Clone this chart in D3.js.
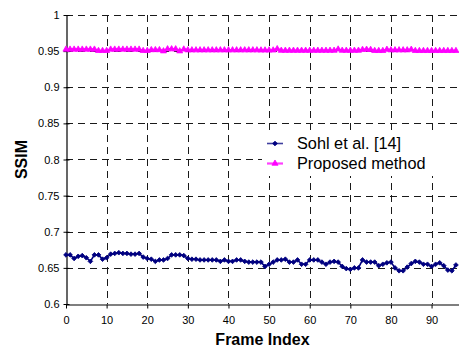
<!DOCTYPE html>
<html>
<head>
<meta charset="utf-8">
<script src="https://cdn.jsdelivr.net/npm/d3@7"></script>
<style>
  html, body { margin: 0; padding: 0; background: #fff; }
  svg { display: block; font-family: "Liberation Sans", Arial, sans-serif; }
</style>
</head>
<body>
<svg id="chart" width="459" height="349"></svg>
<script>
// SSIM per frame for the two methods
const frames = d3.range(0, 97);

const sohlSSIM = [
  0.668, 0.668, 0.663, 0.666, 0.667, 0.664, 0.659, 0.668, 0.668, 0.662,
  0.664, 0.669, 0.670, 0.671, 0.670, 0.670, 0.669, 0.669, 0.670, 0.665,
  0.663, 0.662, 0.659, 0.661, 0.661, 0.663, 0.668, 0.668, 0.668, 0.667,
  0.663, 0.662, 0.662, 0.661, 0.661, 0.661, 0.661, 0.661, 0.659, 0.661,
  0.659, 0.659, 0.661, 0.661, 0.659, 0.658, 0.658, 0.658, 0.658, 0.652,
  0.655, 0.658, 0.661, 0.661, 0.662, 0.658, 0.658, 0.661, 0.655, 0.655,
  0.661, 0.661, 0.661, 0.658, 0.655, 0.658, 0.659, 0.658, 0.652, 0.649,
  0.648, 0.650, 0.650, 0.661, 0.658, 0.658, 0.658, 0.653, 0.655, 0.657,
  0.658, 0.650, 0.646, 0.646, 0.651, 0.656, 0.659, 0.658, 0.655, 0.655,
  0.652, 0.655, 0.657, 0.653, 0.647, 0.646, 0.654
];

const proposedSSIM = [
  0.9524, 0.9524, 0.9524, 0.9524, 0.9524, 0.9524, 0.9524, 0.9524, 0.9505, 0.9505,
  0.9505, 0.9524, 0.9524, 0.9524, 0.9524, 0.9524, 0.9524, 0.9524, 0.9524, 0.9505,
  0.9505, 0.9517, 0.9517, 0.9517, 0.9500, 0.9528, 0.9528, 0.9528, 0.9500, 0.9525,
  0.9514, 0.9514, 0.9514, 0.9514, 0.9514, 0.9514, 0.9514, 0.9514, 0.9514, 0.9514,
  0.9514, 0.9514, 0.9514, 0.9514, 0.9514, 0.9514, 0.9514, 0.9514, 0.9512, 0.9512,
  0.9512, 0.9512, 0.9530, 0.9508, 0.9508, 0.9508, 0.9508, 0.9508, 0.9508, 0.9508,
  0.9508, 0.9508, 0.9508, 0.9508, 0.9508, 0.9508, 0.9508, 0.9525, 0.9508, 0.9508,
  0.9508, 0.9508, 0.9508, 0.9520, 0.9522, 0.9520, 0.9505, 0.9505, 0.9505, 0.9522,
  0.9514, 0.9514, 0.9514, 0.9514, 0.9514, 0.9522, 0.9505, 0.9505, 0.9505, 0.9505,
  0.9505, 0.9505, 0.9505, 0.9505, 0.9505, 0.9505, 0.9505
];

const seriesNames = ["Sohl et al. [14]", "Proposed method"];
const seriesColors = ["#000080", "#ff00ff"];
const xTicks = [0, 10, 20, 30, 40, 50, 60, 70, 80, 90];
const yTicks = [0.6, 0.65, 0.7, 0.75, 0.8, 0.85, 0.9, 0.95, 1];

const svg = d3.select("#chart");
const plotLeft = 66, plotRight = 460, plotTop = 15, plotBottom = 304;

const x = d3.scaleLinear().domain([0, 97]).range([plotLeft, plotRight]);
const y = d3.scaleLinear().domain([0.6, 1]).range([plotBottom, plotTop]);

// dashed grid
const grid = svg.append("g").attr("stroke", "#1a1a1a").attr("stroke-width", 1)
  .attr("stroke-dasharray", "7,5").attr("shape-rendering", "crispEdges");
grid.selectAll("line.h").data(yTicks.filter(d => d > 0.6)).join("line")
  .attr("x1", plotLeft).attr("x2", plotRight)
  .attr("y1", d => Math.round(y(d)) + 0.5).attr("y2", d => Math.round(y(d)) + 0.5);
grid.selectAll("line.v").data(xTicks.filter(d => d > 0)).join("line")
  .attr("y1", plotTop).attr("y2", plotBottom)
  .attr("x1", d => Math.round(x(d)) + 0.5).attr("x2", d => Math.round(x(d)) + 0.5);

// axes with ticks crossing the axis line
const yAxis = d3.axisLeft(y).tickValues(yTicks).tickFormat(d3.format("")).tickSizeInner(3).tickSizeOuter(0).tickPadding(4);
const gy = svg.append("g").attr("transform", `translate(${plotLeft + 0.5},0)`).call(yAxis);
gy.selectAll(".tick line").attr("x2", 3).attr("x1", -3);

const xAxis = d3.axisBottom(x).tickValues(xTicks).tickSizeInner(4).tickSizeOuter(0).tickPadding(8);
const gx = svg.append("g").attr("transform", `translate(0,${plotBottom + 0.5})`).call(xAxis);

[gx, gy].forEach(g => {
  g.select(".domain").attr("stroke", "#000").attr("stroke-width", 1.2);
  g.selectAll(".tick line").attr("stroke", "#000");
  g.selectAll(".tick text").attr("fill", "#000").style("font-size", "11px")
    .style("font-family", "'Liberation Sans', Arial, sans-serif");
});

// series
const series = [
  { name: seriesNames[0], values: sohlSSIM, color: seriesColors[0], symbol: d3.symbolSquare, size: 11, rotate: 45, width: 1.6 },
  { name: seriesNames[1], values: proposedSSIM, color: seriesColors[1], symbol: d3.symbolTriangle, size: 16, rotate: 0, width: 2.2 }
];

const line = d3.line().x((d, i) => x(frames[i])).y(d => y(d));

series.forEach(s => {
  const g = svg.append("g");
  g.append("path").datum(s.values).attr("d", line)
    .attr("fill", "none").attr("stroke", s.color).attr("stroke-width", s.width);
  g.selectAll("path.m").data(s.values).join("path")
    .attr("d", d3.symbol().type(s.symbol).size(s.size))
    .attr("transform", (d, i) => `translate(${x(frames[i])},${y(d)}) rotate(${s.rotate})`)
    .attr("fill", s.color).attr("stroke", s.color).attr("stroke-width", 0.8);
});

// legend
const lg = svg.append("g");
lg.append("rect").attr("x", 262).attr("y", 133).attr("width", 200).attr("height", 43).attr("fill", "#fff");
series.forEach((s, i) => {
  const cy = 143.5 + i * 20;
  lg.append("line").attr("x1", 267).attr("x2", 283).attr("y1", cy).attr("y2", cy)
    .attr("stroke", s.color).attr("stroke-width", s.width).attr("opacity", 0.75);
  lg.append("path").attr("d", d3.symbol().type(s.symbol).size(s.size))
    .attr("transform", `translate(275,${cy}) rotate(${s.rotate})`)
    .attr("fill", s.color).attr("stroke", s.color).attr("stroke-width", 0.8);
  lg.append("text").attr("x", 297).attr("y", cy + 5.5).text(s.name)
    .style("font-size", "16.3px").attr("fill", "#000");
});

// axis titles
svg.append("text").attr("x", (plotLeft + 459) / 2).attr("y", 345).attr("text-anchor", "middle")
  .style("font-size", "16px").style("font-weight", "bold").text("Frame Index");
svg.append("text").attr("transform", `translate(27,${(plotTop + plotBottom) / 2}) rotate(-90)`)
  .attr("text-anchor", "middle").style("font-size", "16px").style("font-weight", "bold").text("SSIM");
</script>
</body>
</html>
